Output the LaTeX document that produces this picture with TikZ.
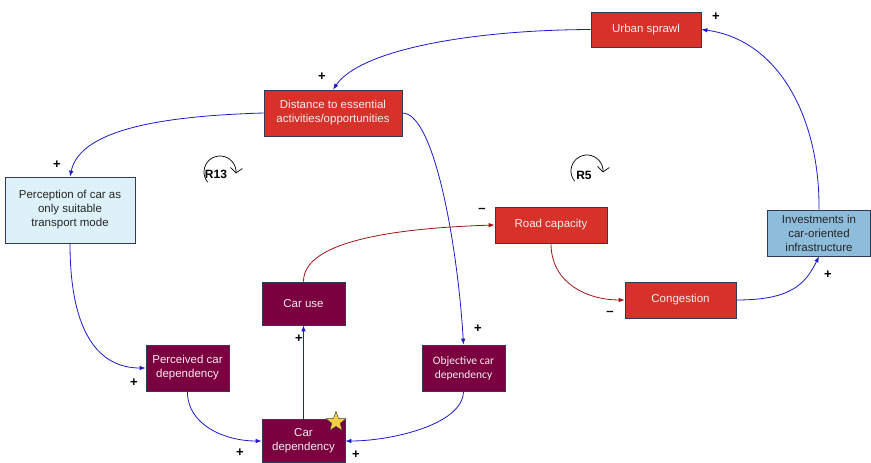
\documentclass[tikz,border=0pt]{standalone}
\usepackage{fontspec}
\setmainfont{Liberation Sans}
\newfontfamily\calfont{Carlito}
\usetikzlibrary{arrows.meta,shapes.geometric}

\definecolor{boxred}{HTML}{D8312A}
\definecolor{boxmaroon}{HTML}{7A0040}
\definecolor{boxpale}{HTML}{DDF1F9}
\definecolor{boxblue}{HTML}{8EBCDB}
\definecolor{edgeline}{HTML}{2F3A5A}
\definecolor{linkblue}{HTML}{1A1ACC}
\definecolor{linkred}{HTML}{A01418}
\definecolor{lighttext}{HTML}{F6ECEF}
\definecolor{stargold}{HTML}{F7CF45}

\tikzset{
  x=1pt, y=1pt,
  var/.style={draw=edgeline, line width=0.7pt, rectangle, inner sep=0pt,
    align=center, font=\fontsize{11.5}{14}\selectfont},
  redvar/.style={var, fill=boxred, text=lighttext},
  maroonvar/.style={var, fill=boxmaroon, text=lighttext},
  palevar/.style={var, fill=boxpale, text=black!85},
  bluevar/.style={var, fill=boxblue, text=black!85},
  poslink/.style={draw=linkblue, line width=0.8pt, -{Latex[length=6pt,width=4.5pt]}},
  neglink/.style={draw=linkred, line width=0.8pt, -{Latex[length=6pt,width=4.5pt]}},
  polarity/.style={font=\fontsize{13}{13}\selectfont\bfseries, text=black, inner sep=0pt},
  looplabel/.style={font=\fontsize{12}{12}\selectfont\bfseries, inner sep=0pt},
  looparc/.style={line width=0.7pt, -{Straight Barb[length=5pt,width=12pt]}}
}

\begin{document}
\begin{tikzpicture}
\useasboundingbox (0,0) rectangle (871,-463);

% variables
\node[redvar, minimum width=110pt, minimum height=35pt] (sprawl) at (646,-29.5) {Urban sprawl};
\node[redvar, minimum width=138pt, minimum height=46pt] (dist) at (333,-113) {Distance to essential\\activities/opportunities};
\node[palevar, minimum width=130pt, minimum height=66pt] (percep) at (70,-210) {Perception of car as\\only suitable\\transport mode};
\node[redvar, minimum width=112pt, minimum height=36pt] (road) at (551,-225) {Road capacity};
\node[redvar, minimum width=111pt, minimum height=36pt] (cong) at (680.5,-300) {Congestion};
\node[bluevar, minimum width=103pt, minimum height=46pt] (invest) at (819,-233) {Investments in\\car-oriented\\infrastructure};
\node[maroonvar, minimum width=83pt, minimum height=43pt] (caruse) at (303.5,-303.5) {Car use};
\node[maroonvar, minimum width=83pt, minimum height=46pt] (perceived) at (187.5,-368) {Perceived car\\dependency};
\node[maroonvar, minimum width=83pt, minimum height=46pt, font=\calfont\fontsize{11.5}{14}\selectfont] (objective) at (463.5,-368) {Objective car\\dependency};
\node[maroonvar, minimum width=83pt, minimum height=43pt] (cardep) at (303.5,-441) {Car\\dependency};
\node[star, star points=5, star point ratio=2.4, fill=stargold, draw=black!75, line width=0.5pt,
      minimum size=21pt, inner sep=0pt] (mark) at (336,-422) {};

% causal links
\draw[poslink] (sprawl.west) .. controls (470,-30) and (360,-50) .. (dist.north);
\draw[poslink] (invest.north) .. controls (820,-120) and (780,-40) .. (sprawl.east);
\draw[poslink] (dist.west) .. controls (160,-116) and (80,-130) .. (percep.north);
\draw[poslink] (dist.east) .. controls (435,-113) and (458,-250) .. (objective.north);
\draw[poslink] (percep.south) .. controls (70,-335) and (100,-368) .. (perceived.west);
\draw[poslink] (perceived.south) .. controls (187,-425) and (225,-441) .. (cardep.west);
\draw[poslink] (objective.south) .. controls (463,-425) and (390,-441) .. (cardep.east);
\draw[poslink] (cardep.north) -- (caruse.south);
\draw[neglink] (caruse.north) .. controls (303,-240) and (400,-228) .. (road.west);
\draw[neglink] (road.south) .. controls (551,-285) and (590,-300) .. (cong.west);
\draw[poslink] (cong.east) .. controls (790,-300) and (805,-285) .. (invest.south);

% link polarities
\node[polarity] (s1) at (322,-77) {+};
\node[polarity] (s2) at (716,-17) {+};
\node[polarity] (s3) at (57,-165) {+};
\node[polarity] (s4) at (478,-329) {+};
\node[polarity] (s5) at (134,-383) {+};
\node[polarity] (s6) at (240,-453) {+};
\node[polarity] (s7) at (356,-455) {+};
\node[polarity] (s8) at (299,-339) {+};
\node[polarity] (s9) at (482,-210) {\textendash};
\node[polarity] (s10) at (610,-313) {\textendash};
\node[polarity] (s11) at (828,-275) {+};

% loop identifiers
\node[looplabel] (r13) at (216,-174) {R13};
\draw[looparc] (220,-172) ++(220:16) arc[start angle=220, end angle=-5, radius=16];
\node[looplabel] (r5) at (584,-175) {R5};
\draw[looparc] (587,-171) ++(220:16) arc[start angle=220, end angle=-5, radius=16];
\end{tikzpicture}
\end{document}
